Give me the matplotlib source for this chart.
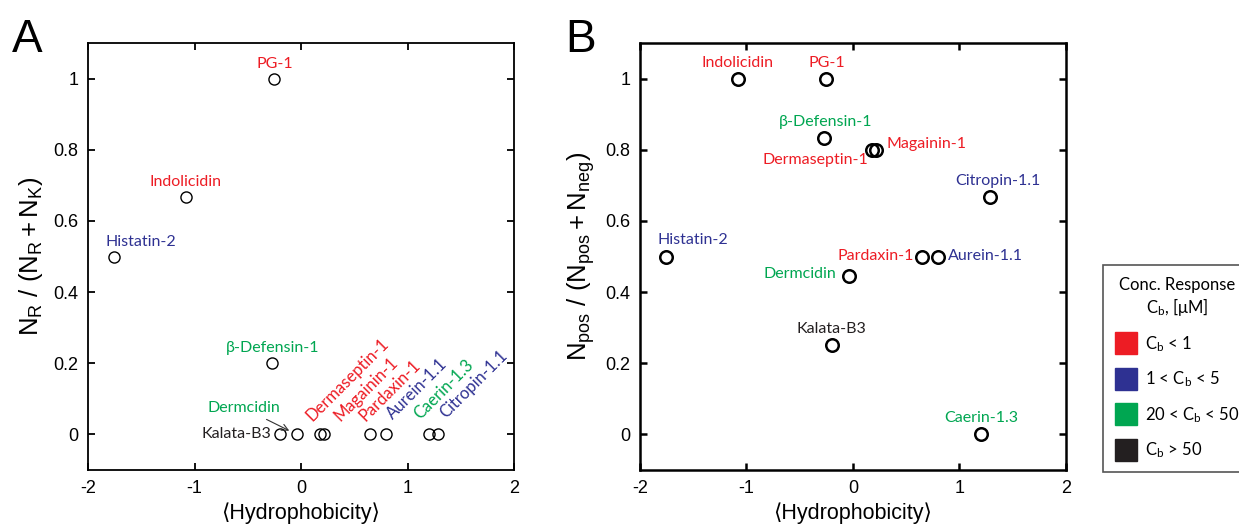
import matplotlib
matplotlib.use('Agg')
import matplotlib.pyplot as plt
from matplotlib.lines import Line2D

plt.rcParams['font.family'] = ['Liberation Sans', 'DejaVu Sans']
plt.rcParams['mathtext.fontset'] = 'custom'
plt.rcParams['mathtext.rm'] = 'Liberation Sans'
plt.rcParams['mathtext.it'] = 'Liberation Sans'
plt.rcParams['axes.unicode_minus'] = False

RED = '#ed1c24'
BLUE = '#2e3192'
GREEN = '#00a651'
BLACK = '#231f20'
LABEL_FONT = ['Lato', 'DejaVu Sans']
LFS = 11.5

# peptides, mean hydrophobicity and concentration-response colour
peptides = ['PG-1', 'Indolicidin', 'Histatin-2', 'β-Defensin-1', 'Kalata-B3', 'Dermcidin',
            'Dermaseptin-1', 'Magainin-1', 'Pardaxin-1', 'Aurein-1.1', 'Caerin-1.3', 'Citropin-1.1']
hydrophobicity = [-0.25, -1.08, -1.76, -0.27, -0.20, -0.04, 0.18, 0.22, 0.65, 0.80, 1.20, 1.29]
colors = [RED, RED, BLUE, GREEN, BLACK, GREEN, RED, RED, RED, BLUE, GREEN, BLUE]

# panel A: N_R / (N_R + N_K)
arg_frac = [1.0, 0.667, 0.5, 0.2, 0, 0, 0, 0, 0, 0, 0, 0]
# panel B: N_pos / (N_pos + N_neg)
pos_frac = [1.0, 1.0, 0.5, 0.833, 0.25, 0.444, 0.8, 0.8, 0.5, 0.5, 0.0, 0.667]

legend_labels = [r'$\mathregular{C_b}$ < 1', r'1 < $\mathregular{C_b}$ < 5',
                 r'20 < $\mathregular{C_b}$ < 50', r'$\mathregular{C_b}$ > 50']
legend_colors = [RED, BLUE, GREEN, BLACK]

# label placement (offset in pixels, alignment) for panel A
labelsA = {
    'PG-1': ((0, 8), 'center', 'bottom'),
    'Indolicidin': ((0, 8), 'center', 'bottom'),
    'Histatin-2': ((-8, 8), 'left', 'bottom'),
    'β-Defensin-1': ((0, 8), 'center', 'bottom'),
    'Kalata-B3': ((-8, 0), 'right', 'center'),
}
rotA = {'Dermaseptin-1': (0.11, 0.035), 'Magainin-1': (0.37, 0.035), 'Pardaxin-1': (0.61, 0.035),
        'Aurein-1.1': (0.86, 0.04), 'Caerin-1.3': (1.12, 0.04), 'Citropin-1.1': (1.36, 0.045)}

labelsB = {
    'PG-1': ((0, 9), 'center', 'bottom'),
    'Indolicidin': ((0, 9), 'center', 'bottom'),
    'Histatin-2': ((-8, 9), 'left', 'bottom'),
    'β-Defensin-1': ((1, 9), 'center', 'bottom'),
    'Kalata-B3': ((0, 9), 'center', 'bottom'),
    'Dermcidin': ((-12, 2), 'right', 'center'),
    'Dermaseptin-1': ((-4, -3), 'right', 'top'),
    'Magainin-1': ((10, 6), 'left', 'center'),
    'Pardaxin-1': ((-8, 0), 'right', 'center'),
    'Aurein-1.1': ((10, 0), 'left', 'center'),
    'Caerin-1.3': ((0, 9), 'center', 'bottom'),
    'Citropin-1.1': ((7, 9), 'center', 'bottom'),
}

fig = plt.figure(figsize=(12.39, 5.29), dpi=100)
axA = fig.add_axes([88 / 1239, 1 - 470 / 529, 426 / 1239, 427 / 529])
axB = fig.add_axes([640 / 1239, 1 - 470 / 529, 426 / 1239, 427 / 529])


def style(ax, lw):
    ax.set_xlim(-2, 2)
    ax.set_ylim(-0.1, 1.1)
    ax.set_xticks([-2, -1, 0, 1, 2])
    ax.set_yticks([0, 0.2, 0.4, 0.6, 0.8, 1])
    ax.set_yticklabels(['0', '0.2', '0.4', '0.6', '0.8', '1'])
    ax.tick_params(direction='in', top=True, right=True, length=5, width=lw,
                   labelsize=13, pad=7)
    for s in ax.spines.values():
        s.set_linewidth(lw)
    ax.set_xlabel('⟨Hydrophobicity⟩', fontsize=15.5, labelpad=4)


style(axA, 1.3)
style(axB, 1.8)

axA.plot(hydrophobicity, arg_frac, 'o', mfc='none', mec='black', ms=8, mew=1.0, zorder=3)
axB.plot(hydrophobicity, pos_frac, 'o', mfc='none', mec='black', ms=9, mew=1.8, zorder=3)

for name, x, y, c in zip(peptides, hydrophobicity, arg_frac, colors):
    if name in labelsA:
        off, ha, va = labelsA[name]
        axA.annotate(name, (x, y), xytext=off, textcoords='offset pixels', ha=ha, va=va,
                     color=c, fontsize=LFS, family=LABEL_FONT)
    elif name in rotA:
        tx, ty = rotA[name]
        axA.text(tx, ty, name, rotation=45, rotation_mode='anchor', ha='left', va='baseline',
                 color=c, fontsize=LFS + 0.5, family=LABEL_FONT)
    elif name == 'Dermcidin':
        axA.annotate(name, (x, y), xytext=(-16, 26), textcoords='offset pixels',
                     ha='right', va='center', color=c, fontsize=LFS, family=LABEL_FONT,
                     arrowprops=dict(arrowstyle='->', color='#333333', lw=0.8,
                                     shrinkA=2, shrinkB=6))

for name, x, y, c in zip(peptides, hydrophobicity, pos_frac, colors):
    off, ha, va = labelsB[name]
    axB.annotate(name, (x, y), xytext=off, textcoords='offset pixels', ha=ha, va=va,
                 color=c, fontsize=LFS, family=LABEL_FONT)

axA.set_ylabel(r'$\mathregular{N_R\ /\ (N_R + N_K)}$', fontsize=18.5, labelpad=6)
axB.set_ylabel(r'$\mathregular{N_{pos}\ /\ (N_{pos} + N_{neg})}$', fontsize=18.5, labelpad=6)

fig.text(12 / 1239, 1 - 52 / 529, 'A', fontsize=33, ha='left', va='baseline')
fig.text(565 / 1239, 1 - 52 / 529, 'B', fontsize=33, ha='left', va='baseline')

handles = [Line2D([], [], marker='s', ls='', ms=16, mfc=c, mec=c) for c in legend_colors]
leg = fig.legend(handles, legend_labels, loc='upper left',
                 bbox_to_anchor=(1103 / 1239, 1 - 265 / 529),
                 title='Conc. Response\n' + r'$\mathregular{C_b}$, [μM]',
                 fancybox=False, edgecolor='#555555', framealpha=1,
                 prop={'family': LABEL_FONT, 'size': 12}, labelspacing=0.95,
                 handletextpad=0.5, borderpad=0.7, handlelength=1.3, borderaxespad=0)
leg.get_title().set_fontfamily(LABEL_FONT)
leg.get_title().set_fontsize(12)
leg.get_title().set_multialignment('center')
leg.get_frame().set_linewidth(1.2)

fig.savefig('out.png', dpi=100)
